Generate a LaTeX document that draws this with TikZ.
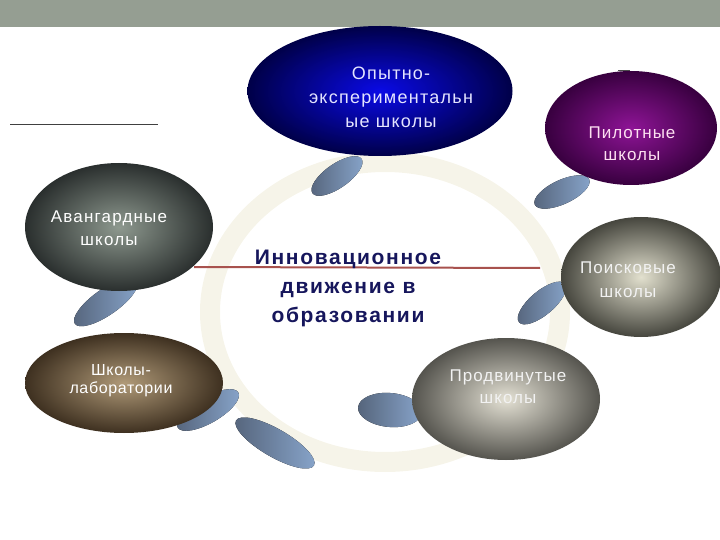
\documentclass[tikz,border=0pt]{standalone}
\usepackage{fontspec}
\setmainfont{Liberation Sans}
\usepackage{xcolor}
\usepackage{tikz}
\usetikzlibrary{shapes.geometric}
\definecolor{band}{HTML}{959E92}
\definecolor{ring}{HTML}{F6F4E9}
\definecolor{navy}{HTML}{16165C}
\definecolor{redline}{HTML}{A8524E}
\definecolor{diskL}{HTML}{55647B}
\definecolor{diskR}{HTML}{88A5CB}
\definecolor{expIn}{HTML}{0A0AE6}
\definecolor{expOut}{HTML}{000048}
\definecolor{pilIn}{HTML}{8E1496}
\definecolor{pilOut}{HTML}{38003F}
\definecolor{avaIn}{HTML}{8E998F}
\definecolor{avaOut}{HTML}{2A2F2E}
\definecolor{labIn}{HTML}{B09A78}
\definecolor{labOut}{HTML}{3E3020}
\definecolor{poiIn}{HTML}{E2E0CE}
\definecolor{poiOut}{HTML}{46463E}
\definecolor{proIn}{HTML}{E4E1D4}
\definecolor{proOut}{HTML}{55544E}
\tikzset{
  ball/.style={ellipse, inner sep=0pt, shading=radial},
  lab/.style={text=white, align=center, font=\fontsize{17}{22}\selectfont\addfontfeature{LetterSpace=6}},
  title/.style={text=navy, align=center, font=\fontsize{21}{29}\selectfont\bfseries\addfontfeature{LetterSpace=8}},
  disk/.style={left color=diskL, right color=diskR},
}

\begin{document}
\begin{tikzpicture}[x=1pt,y=-1pt]
  \useasboundingbox (0,0) rectangle (720,540);
  \fill[band] (0,0) rectangle (720,27);

  % ring behind everything
  \draw[ring, line width=20pt] (385,312) ellipse (175 and 150);

  % shadow disks
  \foreach \x/\y/\a/\rx/\ry in {337/176/35/30/12, 562/192/25/30/12, 106/302/35/38/13,
      542/303/40/30/12, 208/410/30/35/13, 275/443/-30/45/14, 390/410/-5/32/17}
    \fill[disk, rotate around={\a:(\x,\y)}] (\x,\y) ellipse ({\rx} and {\ry});

  % rules
  \coordinate (RL) at (194,267);
  \coordinate (RR) at (540,268);
  \draw[redline, line width=2pt] (RL) -- (RR);
  \coordinate (UL) at (10,125);
  \coordinate (UR) at (158,125);
  \draw[black!75, line width=1pt] (UL) -- (UR);
  \coordinate (ML) at (618,71);
  \coordinate (MR) at (630,71);
  \draw[black!70, line width=1pt] (ML) -- (MR);

  % schools
  \node[ball, minimum width=265pt, minimum height=130pt, inner color=expIn, outer color=expOut] (exp) at (380,91) {};
  \node[ball, minimum width=172pt, minimum height=114pt, inner color=pilIn, outer color=pilOut] (pil) at (631,128) {};
  \node[ball, minimum width=188pt, minimum height=128pt, inner color=avaIn, outer color=avaOut] (ava) at (119,227) {};
  \node[ball, minimum width=198pt, minimum height=100pt, inner color=labIn, outer color=labOut] (lab) at (124,383) {};
  \node[ball, minimum width=160pt, minimum height=120pt, inner color=poiIn, outer color=poiOut] (poi) at (641,277) {};
  \node[ball, minimum width=188pt, minimum height=122pt, inner color=proIn, outer color=proOut] (pro) at (506,399) {};

  \node[lab, text=white!90!blue, font=\fontsize{18}{24}\selectfont\addfontfeature{LetterSpace=7}] (exptxt) at (391,97) {Опытно-\\экспериментальн\\ые школы};
  \node[lab, text=white!88!magenta] (piltxt) at (632,144) {Пилотные\\школы};
  \node[lab, font=\fontsize{17}{23}\selectfont\addfontfeature{LetterSpace=7}] (avatxt) at (109,228) {Авангардные\\школы};
  \node[lab, font=\fontsize{16}{18}\selectfont\addfontfeature{LetterSpace=4}] (labtxt) at (121,381) {Школы-\\лаборатории};
  \node[lab, text=white!90!gray, font=\fontsize{17}{24}\selectfont\addfontfeature{LetterSpace=6}] (poitxt) at (628,280) {Поисковые\\школы};
  \node[lab, text=white!90!gray] (protxt) at (508,387) {Продвинутые\\школы};

  \node[title] (main) at (348,288) {Инновационное\\движение в\\образовании};
\end{tikzpicture}
\end{document}
